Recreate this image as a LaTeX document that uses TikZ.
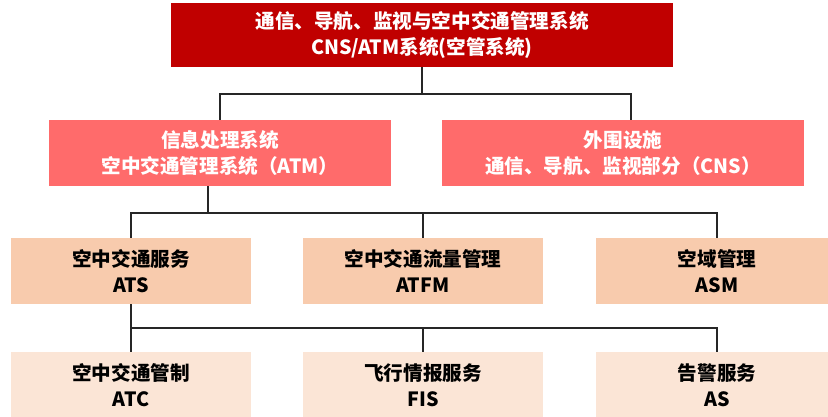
\documentclass[tikz,border=0pt]{standalone}
\usepackage{fontspec}
\setmainfont{Noto Sans CJK SC}
\definecolor{topred}{HTML}{C00000}
\definecolor{midred}{HTML}{FF6B6B}
\definecolor{peach}{HTML}{F8CBAD}
\definecolor{lightpeach}{HTML}{FBE5D6}
\definecolor{lin}{HTML}{262626}
\tikzset{
  box/.style={inner sep=0pt, align=center, font=\fontsize{19.6}{25.5}\selectfont\bfseries},
  conn/.style={draw=lin, line width=1.3pt},
}
\begin{document}
\begin{tikzpicture}[x=1pt,y=-1pt]
\useasboundingbox (0,0) rectangle (828,417);
\clip (0,0) rectangle (828,417);
\node[box, fill=topred, text=white, minimum width=502pt, minimum height=64pt] (top) at (422,35) {通信、导航、监视与空中交通管理系统\\CNS/ATM系统(空管系统)};
\node[box, fill=midred, text=white, minimum width=342pt, minimum height=66pt] (atm) at (220,153) {信息处理系统\\空中交通管理系统（ATM）};
\node[box, fill=midred, text=white, minimum width=362pt, minimum height=66pt] (cns) at (623,153) {外围设施\\通信、导航、监视部分（CNS）};
\node[box, fill=peach, minimum width=240pt, minimum height=66pt] (ats) at (131,271) {空中交通服务\\ATS};
\node[box, fill=peach, minimum width=240pt, minimum height=66pt] (atfm) at (423,271) {空中交通流量管理\\ATFM};
\node[box, fill=peach, minimum width=242pt, minimum height=66pt] (asm) at (717,271) {空域管理\\ASM};
\node[box, fill=lightpeach, minimum width=240pt, minimum height=66pt] (atc) at (131,385) {空中交通管制\\ATC};
\node[box, fill=lightpeach, minimum width=240pt, minimum height=66pt] (fis) at (423,385) {飞行情报服务\\FIS};
\node[box, fill=lightpeach, minimum width=242pt, minimum height=66pt] (as) at (717,385) {告警服务\\AS};
\coordinate (j1) at (422,94);
\coordinate (j2) at (208,213);
\coordinate (j3) at (131,328);
\draw[conn] (top.south) -- (j1);
\draw[conn] (j1) -| (atm.north);
\draw[conn] (j1) -| ([xshift=8pt]cns.north);
\draw[conn] ([xshift=-12pt]atm.south) -- (j2);
\draw[conn] (j2) -| (ats.north);
\draw[conn] (j2) -| (atfm.north);
\draw[conn] (j2) -| (asm.north);
\draw[conn] (ats.south) -- (j3);
\draw[conn] (j3) -- (atc.north);
\draw[conn] (j3) -| (fis.north);
\draw[conn] (j3) -| (as.north);
\end{tikzpicture}
\end{document}
